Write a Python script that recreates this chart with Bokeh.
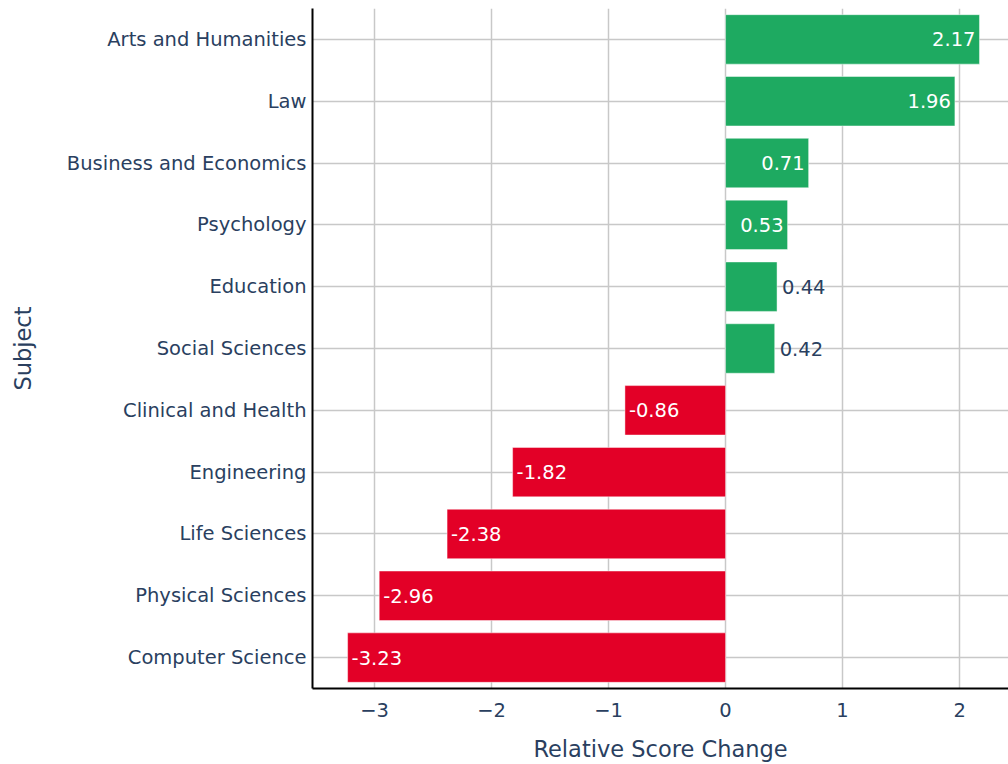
from bokeh.plotting import figure
from bokeh.models import ColumnDataSource, FixedTicker, Range1d
from bokeh.embed import file_html
from bokeh.resources import INLINE
from bokeh.core.properties import value

subjects = ["Arts and Humanities", "Law", "Business and Economics", "Psychology",
            "Education", "Social Sciences", "Clinical and Health", "Engineering",
            "Life Sciences", "Physical Sciences", "Computer Science"]
changes = [2.17, 1.96, 0.71, 0.53, 0.44, 0.42, -0.86, -1.82, -2.38, -2.96, -3.23]
x_ticks = [-3, -2, -1, 0, 1, 2]
x_tick_labels = ["\u22123", "\u22122", "\u22121", "0", "1", "2"]

GREEN = "#1eaa61"
RED = "#e30027"
FONT = "DejaVu Sans"
TXT = "#2a3f5f"

colors = [GREEN if v >= 0 else RED for v in changes]
labels = ["%.2f" % v for v in changes]
inside = [abs(v) >= 0.5 for v in changes]
aligns, offs, tcols = [], [], []
for v, ins in zip(changes, inside):
    if ins:
        if v >= 0:
            aligns.append("right"); offs.append(-4)
        else:
            aligns.append("left"); offs.append(4)
        tcols.append("white")
    else:
        aligns.append("left" if v >= 0 else "right")
        offs.append(5 if v >= 0 else -5)
        tcols.append(TXT)

src = ColumnDataSource(dict(y=subjects, x=changes, c=colors, t=labels,
                            a=aligns, o=offs, tc=tcols))

p = figure(width=1008, height=764, y_range=list(reversed(subjects)),
           x_range=Range1d(-3.53, 2.418), output_backend="svg",
           toolbar_location=None, min_border_left=312, min_border_right=0,
           min_border_top=8, min_border_bottom=76)
p.outline_line_color = None
p.background_fill_color = "white"
p.border_fill_color = "white"

p.hbar(y="y", right="x", left=0, height=0.8, fill_color="c", source=src,
       line_color="white", line_alpha=0.45, line_width=1)
p.text(x="x", y="y", text="t", text_align="a", x_offset="o",
       text_baseline="middle", text_color="tc", source=src,
       text_font=value(FONT), text_font_size="19.5px")

for ax in (p.xaxis[0], p.yaxis[0]):
    ax.axis_line_color = "black"
    ax.axis_line_width = 2
    ax.major_tick_line_color = None
    ax.minor_tick_line_color = None
    ax.major_label_text_font = FONT
    ax.major_label_text_font_size = "19.5px"
    ax.major_label_text_color = TXT
    ax.axis_label_text_font = FONT
    ax.axis_label_text_font_size = "22.5px"
    ax.axis_label_text_font_style = "normal"
    ax.axis_label_text_color = TXT

p.xaxis.ticker = FixedTicker(ticks=x_ticks)
p.xaxis.major_label_overrides = {t: l for t, l in zip(x_ticks, x_tick_labels)}
p.xaxis.axis_label = "Relative Score Change"
p.xaxis.major_label_standoff = 8
p.xaxis.axis_label_standoff = 16

p.yaxis.axis_label = "Subject"
p.yaxis.major_label_standoff = 0
p.yaxis.axis_label_standoff = 28

for g in (p.xgrid[0], p.ygrid[0]):
    g.grid_line_color = "#c8c8c8"
    g.grid_line_width = 1.5

open("out.html", "w").write(file_html(p, INLINE))
